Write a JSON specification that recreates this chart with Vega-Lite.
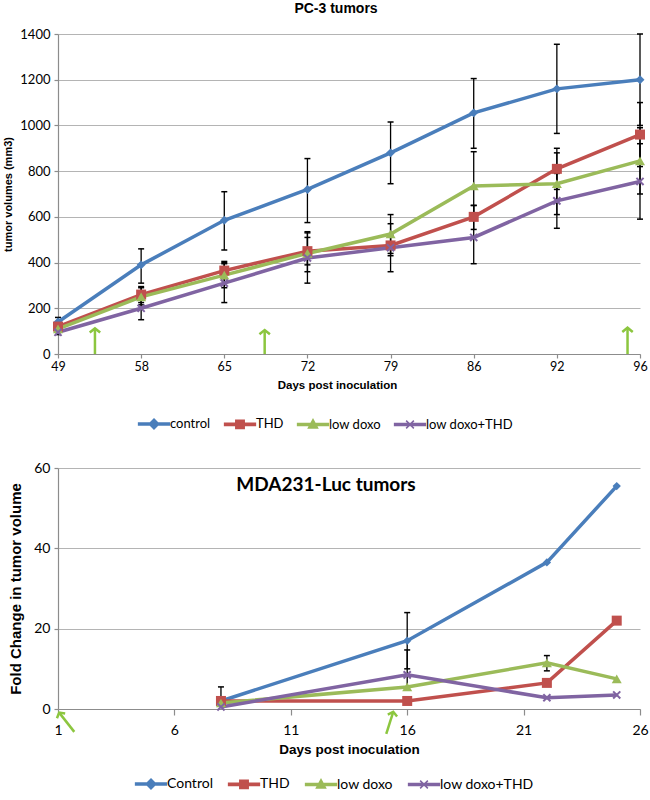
{
  "$schema": "https://vega.github.io/schema/vega-lite/v6.json",
  "background": "white",
  "padding": {"left": 2, "top": 2, "right": 3, "bottom": 0},
  "spacing": 29,
  "config": {
    "view": {"stroke": null},
    "font": "Liberation Sans",
    "axis": {
      "gridColor": "#b4b4b4", "gridWidth": 1.2, "domainColor": "#8c8c8c", "domainWidth": 1.2,
      "tickColor": "#8c8c8c", "tickWidth": 1.2, "labelFont": "Lato", "labelColor": "#000",
      "titleFont": "Liberation Sans", "titleFontWeight": "bold", "titleColor": "#000"
    },
    "legend": {"labelFont": "Lato", "labelColor": "#000", "labelFontSize": 13}
  },
  "datasets": {
    "pc3": [
      {"series": "control", "day": 49, "vol": 140}, {"series": "control", "day": 58, "vol": 390},
      {"series": "control", "day": 65, "vol": 585}, {"series": "control", "day": 72, "vol": 720},
      {"series": "control", "day": 79, "vol": 880}, {"series": "control", "day": 86, "vol": 1055},
      {"series": "control", "day": 92, "vol": 1160}, {"series": "control", "day": 96, "vol": 1200},
      {"series": "THD", "day": 49, "vol": 120}, {"series": "THD", "day": 58, "vol": 260},
      {"series": "THD", "day": 65, "vol": 365}, {"series": "THD", "day": 72, "vol": 450},
      {"series": "THD", "day": 79, "vol": 475}, {"series": "THD", "day": 86, "vol": 600},
      {"series": "THD", "day": 92, "vol": 810}, {"series": "THD", "day": 96, "vol": 960},
      {"series": "low doxo", "day": 49, "vol": 110}, {"series": "low doxo", "day": 58, "vol": 250},
      {"series": "low doxo", "day": 65, "vol": 345}, {"series": "low doxo", "day": 72, "vol": 440},
      {"series": "low doxo", "day": 79, "vol": 525}, {"series": "low doxo", "day": 86, "vol": 735},
      {"series": "low doxo", "day": 92, "vol": 745}, {"series": "low doxo", "day": 96, "vol": 845},
      {"series": "low doxo+THD", "day": 49, "vol": 95}, {"series": "low doxo+THD", "day": 58, "vol": 200},
      {"series": "low doxo+THD", "day": 65, "vol": 310}, {"series": "low doxo+THD", "day": 72, "vol": 420},
      {"series": "low doxo+THD", "day": 79, "vol": 465}, {"series": "low doxo+THD", "day": 86, "vol": 510},
      {"series": "low doxo+THD", "day": 92, "vol": 670}, {"series": "low doxo+THD", "day": 96, "vol": 755}
    ],
    "pc3err": [
      {"series": "control", "day": 49, "lo": 120, "hi": 160}, {"series": "control", "day": 58, "lo": 310, "hi": 460},
      {"series": "control", "day": 65, "lo": 455, "hi": 710}, {"series": "control", "day": 72, "lo": 575, "hi": 855},
      {"series": "control", "day": 79, "lo": 745, "hi": 1015}, {"series": "control", "day": 86, "lo": 900, "hi": 1205},
      {"series": "control", "day": 92, "lo": 965, "hi": 1355}, {"series": "control", "day": 96, "lo": 1000, "hi": 1400},
      {"series": "THD", "day": 49, "lo": 105, "hi": 135}, {"series": "THD", "day": 58, "lo": 225, "hi": 295},
      {"series": "THD", "day": 65, "lo": 330, "hi": 405}, {"series": "THD", "day": 72, "lo": 390, "hi": 510},
      {"series": "THD", "day": 79, "lo": 430, "hi": 520}, {"series": "THD", "day": 86, "lo": 545, "hi": 650},
      {"series": "THD", "day": 92, "lo": 720, "hi": 900}, {"series": "THD", "day": 96, "lo": 820, "hi": 1100},
      {"series": "low doxo", "day": 49, "lo": 95, "hi": 125}, {"series": "low doxo", "day": 58, "lo": 215, "hi": 290},
      {"series": "low doxo", "day": 65, "lo": 290, "hi": 400}, {"series": "low doxo", "day": 72, "lo": 360, "hi": 535},
      {"series": "low doxo", "day": 79, "lo": 440, "hi": 610}, {"series": "low doxo", "day": 86, "lo": 590, "hi": 885},
      {"series": "low doxo", "day": 92, "lo": 610, "hi": 880}, {"series": "low doxo", "day": 96, "lo": 700, "hi": 990},
      {"series": "low doxo+THD", "day": 49, "lo": 85, "hi": 110}, {"series": "low doxo+THD", "day": 58, "lo": 150, "hi": 250},
      {"series": "low doxo+THD", "day": 65, "lo": 225, "hi": 395}, {"series": "low doxo+THD", "day": 72, "lo": 310, "hi": 530},
      {"series": "low doxo+THD", "day": 79, "lo": 360, "hi": 570}, {"series": "low doxo+THD", "day": 86, "lo": 395, "hi": 650},
      {"series": "low doxo+THD", "day": 92, "lo": 550, "hi": 790}, {"series": "low doxo+THD", "day": 96, "lo": 590, "hi": 920}
    ],
    "pc3arrows": [
      {"day": 53.0, "base": 0, "tip": 112},
      {"day": 68.4, "base": 0, "tip": 105},
      {"day": 95.4, "base": 0, "tip": 115}
    ],
    "mda": [
      {"series": "Control", "day": 8, "fold": 2}, {"series": "Control", "day": 16, "fold": 17},
      {"series": "Control", "day": 22, "fold": 36.5}, {"series": "Control", "day": 25, "fold": 55.5},
      {"series": "THD", "day": 8, "fold": 2}, {"series": "THD", "day": 16, "fold": 2},
      {"series": "THD", "day": 22, "fold": 6.5}, {"series": "THD", "day": 25, "fold": 22},
      {"series": "low doxo", "day": 8, "fold": 1.5}, {"series": "low doxo", "day": 16, "fold": 5.5},
      {"series": "low doxo", "day": 22, "fold": 11.5}, {"series": "low doxo", "day": 25, "fold": 7.5},
      {"series": "low doxo+THD", "day": 8, "fold": 0.5}, {"series": "low doxo+THD", "day": 16, "fold": 8.5},
      {"series": "low doxo+THD", "day": 22, "fold": 2.8}, {"series": "low doxo+THD", "day": 25, "fold": 3.5}
    ],
    "mdaerr": [
      {"series": "Control", "day": 8, "lo": 2, "hi": 5.5},
      {"series": "Control", "day": 16, "lo": 10, "hi": 24},
      {"series": "low doxo+THD", "day": 16, "lo": 5.5, "hi": 14.7},
      {"series": "low doxo", "day": 22, "lo": 9.5, "hi": 13.3}
    ],
    "mdaarrows": [
      {"id": 1, "x": 1.7, "y": -5.7, "x2": 1.05, "y2": -0.9},
      {"id": 2, "x": 15.1, "y": -6.2, "x2": 15.4, "y2": -0.7}
    ]
  },
  "resolve": {"scale": {"color": "independent", "stroke": "independent"}, "legend": {"color": "independent"}},
  "vconcat": [
    {
      "width": 582, "height": 320,
      "title": {"text": "PC-3 tumors", "fontSize": 14, "fontWeight": "bold", "font": "Liberation Sans", "offset": 12, "dx": -13},
      "layer": [
        {
          "data": {"name": "pc3err"},
          "mark": {"type": "rule", "color": "#000", "strokeWidth": 1.3},
          "encoding": {
            "x": {"field": "day", "type": "quantitative",
              "scale": {"type": "linear", "domain": [49, 58, 65, 72, 79, 86, 92, 96], "range": [0, 83.14, 166.29, 249.43, 332.57, 415.71, 498.86, 582], "nice": false, "zero": false},
              "axis": {"values": [49, 58, 65, 72, 79, 86, 92, 96], "grid": false, "title": "Days post inoculation", "titleX": 279, "titleFontSize": 11.5, "titlePadding": 7, "labelFontSize": 12.5, "tickSize": 4, "labelPadding": 2, "labelFlush": false}},
            "y": {"field": "lo", "type": "quantitative",
              "scale": {"domain": [0, 1400], "nice": false},
              "axis": {"values": [0, 200, 400, 600, 800, 1000, 1200, 1400], "format": "d", "grid": true, "title": "tumor volumes (mm3)", "titleFontSize": 11, "titlePadding": 6, "labelFontSize": 13, "tickSize": 4, "labelPadding": 4}},
            "y2": {"field": "hi"}
          }
        },
        {
          "data": {"name": "pc3err"},
          "mark": {"type": "tick", "orient": "horizontal", "color": "#000", "size": 6, "thickness": 1.5, "opacity": 1},
          "encoding": {"x": {"field": "day", "type": "quantitative"}, "y": {"field": "lo", "type": "quantitative"}}
        },
        {
          "data": {"name": "pc3err"},
          "mark": {"type": "tick", "orient": "horizontal", "color": "#000", "size": 6, "thickness": 1.5, "opacity": 1},
          "encoding": {"x": {"field": "day", "type": "quantitative"}, "y": {"field": "hi", "type": "quantitative"}}
        },
        {
          "data": {"name": "pc3"},
          "mark": {"type": "line", "strokeWidth": 3.5},
          "encoding": {
            "x": {"field": "day", "type": "quantitative"},
            "y": {"field": "vol", "type": "quantitative"},
            "color": {"field": "series", "type": "nominal",
              "scale": {"domain": ["control", "THD", "low doxo", "low doxo+THD"], "range": ["#4a7ebb", "#c0504d", "#9bbb59", "#8064a2"]},
              "legend": {"title": null, "orient": "none", "legendX": 79, "legendY": 382, "direction": "horizontal", "symbolSize": 196, "symbolOffset": 9, "labelOffset": 8, "columnPadding": 10,
                "encode": {"symbols": {"update": {
                  "shape": {"signal": "(datum.value === 'control' || datum.value === 'Control') ? 'M-2.2,-0.15H2.2V0.15H-2.2Z M0,-0.7L0.7,0L0,0.7L-0.7,0Z' : datum.value === 'THD' ? 'M-2.2,-0.15H2.2V0.15H-2.2Z M-0.6,-0.6H0.6V0.6H-0.6Z' : datum.value === 'low doxo' ? 'M-2.2,-0.15H2.2V0.15H-2.2Z M0,-0.7L0.65,0.5L-0.65,0.5Z' : 'M-2.2,-0.15H2.2V0.15H-2.2Z M-0.55,-0.55L0.55,0.55M-0.55,0.55L0.55,-0.55'"},
                  "fill": {"signal": "(datum.value === 'control' || datum.value === 'Control') ? '#4a7ebb' : datum.value === 'THD' ? '#c0504d' : datum.value === 'low doxo' ? '#9bbb59' : '#8064a2'"},
                  "stroke": {"signal": "(datum.value === 'control' || datum.value === 'Control') ? '#4a7ebb' : datum.value === 'THD' ? '#c0504d' : datum.value === 'low doxo' ? '#9bbb59' : '#8064a2'"},
                  "strokeWidth": {"value": 1.5},
                  "opacity": {"value": 1}
                }}}}
            }
          }
        },
        {
          "data": {"name": "pc3"},
          "transform": [{"filter": "datum.series === 'control'"}],
          "mark": {"type": "point", "shape": "diamond", "filled": true, "opacity": 1, "size": 80, "color": "#4a7ebb"},
          "encoding": {"x": {"field": "day", "type": "quantitative"}, "y": {"field": "vol", "type": "quantitative"}}
        },
        {
          "data": {"name": "pc3"},
          "transform": [{"filter": "datum.series === 'THD'"}],
          "mark": {"type": "point", "shape": "square", "filled": true, "opacity": 1, "size": 100, "color": "#c0504d"},
          "encoding": {"x": {"field": "day", "type": "quantitative"}, "y": {"field": "vol", "type": "quantitative"}}
        },
        {
          "data": {"name": "pc3"},
          "transform": [{"filter": "datum.series === 'low doxo'"}],
          "mark": {"type": "point", "shape": "triangle-up", "filled": true, "opacity": 1, "size": 100, "color": "#9bbb59"},
          "encoding": {"x": {"field": "day", "type": "quantitative"}, "y": {"field": "vol", "type": "quantitative"}}
        },
        {
          "data": {"name": "pc3"},
          "transform": [{"filter": "datum.series === 'low doxo+THD'"}],
          "mark": {"type": "point", "shape": "M-0.8,-0.8L0.8,0.8M-0.8,0.8L0.8,-0.8", "filled": false, "opacity": 1, "size": 80, "strokeWidth": 2, "color": "#8064a2"},
          "encoding": {"x": {"field": "day", "type": "quantitative"}, "y": {"field": "vol", "type": "quantitative"}}
        },
        {
          "data": {"name": "pc3arrows"},
          "mark": {"type": "rule", "color": "#8cc63f", "strokeWidth": 2.5},
          "encoding": {"x": {"field": "day", "type": "quantitative"}, "y": {"field": "base", "type": "quantitative"}, "y2": {"field": "tip"}}
        },
        {
          "data": {"name": "pc3arrows"},
          "mark": {"type": "point", "shape": "M-1,0.8L0,0L1,0.8", "filled": false, "stroke": "#8cc63f", "strokeWidth": 2.5, "size": 110, "opacity": 1},
          "encoding": {"x": {"field": "day", "type": "quantitative"}, "y": {"field": "tip", "type": "quantitative"}}
        }
      ]
    },
    {
      "width": 582, "height": 241,
      "title": {"text": "MDA231-Luc tumors", "fontSize": 19, "fontWeight": "bold", "font": "Lato", "offset": -34, "dx": -23},
      "layer": [
        {
          "data": {"name": "mdaerr"},
          "mark": {"type": "rule", "color": "#000", "strokeWidth": 1.3},
          "encoding": {
            "x": {"field": "day", "type": "quantitative",
              "scale": {"domain": [1, 26], "nice": false, "zero": false},
              "axis": {"values": [1, 6, 11, 16, 21, 26], "grid": false, "title": "Days post inoculation", "titleFontSize": 13.5, "titlePadding": 5, "labelFontSize": 14, "tickSize": 6, "labelPadding": 8, "labelFlush": false}},
            "y": {"field": "lo", "type": "quantitative",
              "scale": {"domain": [0, 60], "nice": false},
              "axis": {"values": [0, 20, 40, 60], "grid": true, "title": "Fold Change in tumor volume", "titleFontSize": 15, "titlePadding": 10, "labelFontSize": 14, "tickSize": 4, "labelPadding": 4}},
            "y2": {"field": "hi"}
          }
        },
        {
          "data": {"name": "mdaerr"},
          "mark": {"type": "tick", "orient": "horizontal", "color": "#000", "size": 6, "thickness": 1.5, "opacity": 1},
          "encoding": {"x": {"field": "day", "type": "quantitative"}, "y": {"field": "lo", "type": "quantitative"}}
        },
        {
          "data": {"name": "mdaerr"},
          "mark": {"type": "tick", "orient": "horizontal", "color": "#000", "size": 6, "thickness": 1.5, "opacity": 1},
          "encoding": {"x": {"field": "day", "type": "quantitative"}, "y": {"field": "hi", "type": "quantitative"}}
        },
        {
          "data": {"name": "mda"},
          "mark": {"type": "line", "strokeWidth": 3.5},
          "encoding": {
            "x": {"field": "day", "type": "quantitative"},
            "y": {"field": "fold", "type": "quantitative"},
            "color": {"field": "series", "type": "nominal",
              "scale": {"domain": ["Control", "THD", "low doxo", "low doxo+THD"], "range": ["#4a7ebb", "#c0504d", "#9bbb59", "#8064a2"]},
              "legend": {"title": null, "orient": "none", "legendX": 76, "legendY": 308, "direction": "horizontal", "symbolSize": 196, "symbolOffset": 9, "labelOffset": 8, "columnPadding": 12, "labelFontSize": 14,
                "encode": {"symbols": {"update": {
                  "shape": {"signal": "(datum.value === 'control' || datum.value === 'Control') ? 'M-2.2,-0.15H2.2V0.15H-2.2Z M0,-0.7L0.7,0L0,0.7L-0.7,0Z' : datum.value === 'THD' ? 'M-2.2,-0.15H2.2V0.15H-2.2Z M-0.6,-0.6H0.6V0.6H-0.6Z' : datum.value === 'low doxo' ? 'M-2.2,-0.15H2.2V0.15H-2.2Z M0,-0.7L0.65,0.5L-0.65,0.5Z' : 'M-2.2,-0.15H2.2V0.15H-2.2Z M-0.55,-0.55L0.55,0.55M-0.55,0.55L0.55,-0.55'"},
                  "fill": {"signal": "(datum.value === 'control' || datum.value === 'Control') ? '#4a7ebb' : datum.value === 'THD' ? '#c0504d' : datum.value === 'low doxo' ? '#9bbb59' : '#8064a2'"},
                  "stroke": {"signal": "(datum.value === 'control' || datum.value === 'Control') ? '#4a7ebb' : datum.value === 'THD' ? '#c0504d' : datum.value === 'low doxo' ? '#9bbb59' : '#8064a2'"},
                  "strokeWidth": {"value": 1.5},
                  "opacity": {"value": 1}
                }}}}
            }
          }
        },
        {
          "data": {"name": "mda"},
          "transform": [{"filter": "datum.series === 'Control'"}],
          "mark": {"type": "point", "shape": "diamond", "filled": true, "opacity": 1, "size": 70, "color": "#4a7ebb"},
          "encoding": {"x": {"field": "day", "type": "quantitative"}, "y": {"field": "fold", "type": "quantitative"}}
        },
        {
          "data": {"name": "mda"},
          "transform": [{"filter": "datum.series === 'THD'"}],
          "mark": {"type": "point", "shape": "square", "filled": true, "opacity": 1, "size": 100, "color": "#c0504d"},
          "encoding": {"x": {"field": "day", "type": "quantitative"}, "y": {"field": "fold", "type": "quantitative"}}
        },
        {
          "data": {"name": "mda"},
          "transform": [{"filter": "datum.series === 'low doxo'"}],
          "mark": {"type": "point", "shape": "triangle-up", "filled": true, "opacity": 1, "size": 100, "color": "#9bbb59"},
          "encoding": {"x": {"field": "day", "type": "quantitative"}, "y": {"field": "fold", "type": "quantitative"}}
        },
        {
          "data": {"name": "mda"},
          "transform": [{"filter": "datum.series === 'low doxo+THD'"}],
          "mark": {"type": "point", "shape": "M-0.8,-0.8L0.8,0.8M-0.8,0.8L0.8,-0.8", "filled": false, "opacity": 1, "size": 80, "strokeWidth": 2, "color": "#8064a2"},
          "encoding": {"x": {"field": "day", "type": "quantitative"}, "y": {"field": "fold", "type": "quantitative"}}
        },
        {
          "data": {"name": "mdaarrows"},
          "mark": {"type": "rule", "color": "#8cc63f", "strokeWidth": 2.5},
          "encoding": {"x": {"field": "x", "type": "quantitative"}, "x2": {"field": "x2"}, "y": {"field": "y", "type": "quantitative"}, "y2": {"field": "y2"}}
        },
        {
          "data": {"name": "mdaarrows"},
          "transform": [{"filter": "datum.id === 1"}],
          "mark": {"type": "point", "shape": "M-1,0.8L0,0L1,0.8", "filled": false, "stroke": "#8cc63f", "strokeWidth": 2.5, "size": 90, "opacity": 1, "angle": -30},
          "encoding": {"x": {"field": "x2", "type": "quantitative"}, "y": {"field": "y2", "type": "quantitative"}}
        },
        {
          "data": {"name": "mdaarrows"},
          "transform": [{"filter": "datum.id === 2"}],
          "mark": {"type": "point", "shape": "M-1,0.8L0,0L1,0.8", "filled": false, "stroke": "#8cc63f", "strokeWidth": 2.5, "size": 90, "opacity": 1, "angle": 12},
          "encoding": {"x": {"field": "x2", "type": "quantitative"}, "y": {"field": "y2", "type": "quantitative"}}
        }
      ]
    }
  ]
}
